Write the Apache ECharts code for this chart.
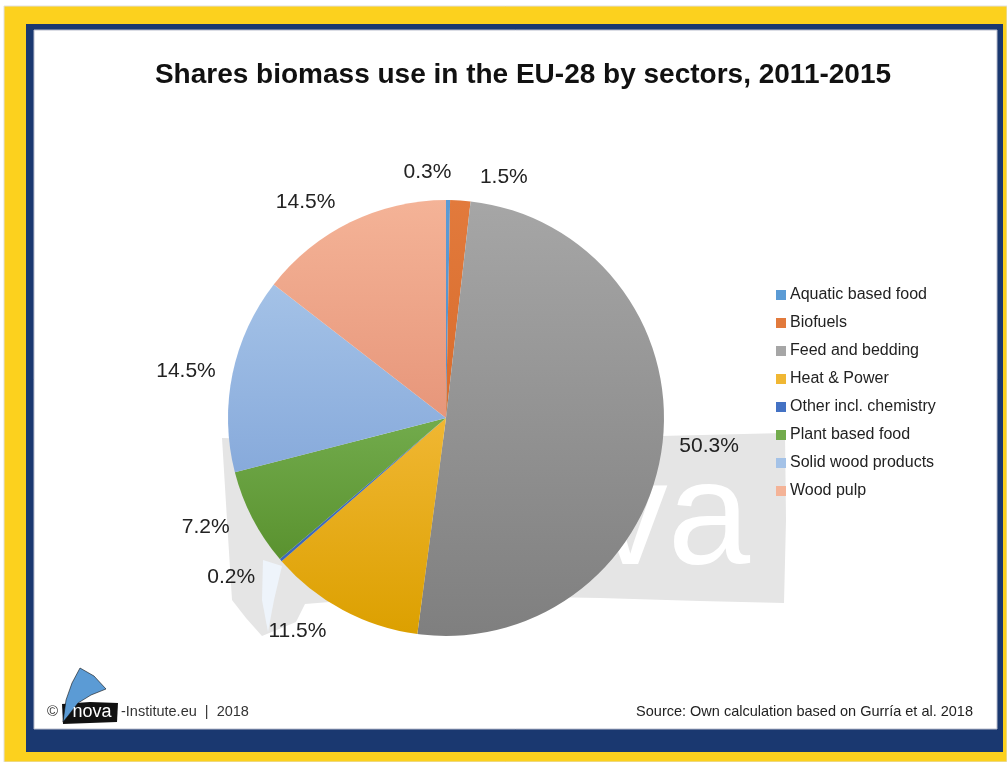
<!DOCTYPE html>
<html>
<head>
<meta charset="utf-8">
<script src="https://cdn.jsdelivr.net/npm/echarts@6/dist/echarts.min.js"></script>
<style>html,body{margin:0;padding:0;background:#fff;}#c{width:1007px;height:762px;}</style>
</head>
<body>
<div id="c"></div>
<script>
// ---- data ----
const categories = ['Aquatic based food','Biofuels','Feed and bedding','Heat & Power','Other incl. chemistry','Plant based food','Solid wood products','Wood pulp'];
const shares = [0.3, 1.5, 50.3, 11.5, 0.2, 7.2, 14.5, 14.5];
const titleText = 'Shares biomass use in the EU-28 by sectors, 2011-2015';
const sourceText = 'Source: Own calculation based on Gurría et al. 2018';

// ---- styles ----
const topColors =    ['#5b9bd5','#e27a3c','#a6a6a6','#f0b733','#4472c4','#72ab4c','#a4c2e7','#f4b397'];
const bottomColors = ['#5590cc','#d86c2c','#7f7f7f','#dca000','#3d68b8','#5a922f','#87aadb','#e7967a'];
const labelLen = [28, 23, 12, 24, 27, 20, 12, 22];
const labelLen2 = [0, 13, 0, 0, 0, 0, 0, 0];
const FONT = '"Liberation Sans", Arial, Helvetica, sans-serif';

const chart = echarts.init(document.getElementById('c'), null, {renderer:'canvas'});

const data = categories.map((name, i) => ({
  name: name,
  value: shares[i],
  itemStyle: {
    color: { type:'linear', x:0, y:0, x2:0, y2:1,
      colorStops:[{offset:0,color:topColors[i]},{offset:1,color:bottomColors[i]}] }
  },
  labelLine: { show:false, length: labelLen[i], length2: labelLen2[i] }
}));

const option = {
  animation: false,
  backgroundColor: '#ffffff',
  legend: {
    orient: 'vertical',
    left: 776,
    top: 287,
    padding: 0,
    itemWidth: 10,
    itemHeight: 10,
    itemGap: 12,
    icon: 'rect',
    selectedMode: false,
    data: categories.map((c, i) => ({ name: c, itemStyle: { color: topColors[i] } })),
    textStyle: { fontSize: 16, lineHeight: 16, color: '#222', fontFamily: FONT, padding: [0,0,0,-1] }
  },
  graphic: [
    { type:'rect', z:-10, silent:true, shape:{x:4,y:6,width:1003,height:756}, style:{fill:'#fcd11e', stroke:'#e0e0e0', lineWidth:1} },
    { type:'rect', z:-9, silent:true, shape:{x:26,y:24,width:977,height:728}, style:{fill:'#1a3870'} },
    { type:'rect', z:-8, silent:true, shape:{x:34,y:30,width:963,height:699}, style:{fill:'#ffffff', stroke:'#b8bccc', lineWidth:1} },
    // watermark
    { type:'polygon', z:-5, silent:true,
      shape:{ points:[[222,438],[330,441],[450,441],[560,438],[660,436],[785,433],[786,520],[784,603],[700,601],[600,598],[480,596],[380,598],[305,604],[296,622],[262,636],[246,618],[232,600],[227,520]] },
      style:{ fill:'#e5e5e5' } },
    { type:'polygon', z:-4, silent:true,
      shape:{ points:[[263,560],[282,566],[274,600],[268,632],[262,600]] },
      style:{ fill:'#eef4fb' } },
    { type:'text', z:-3, silent:true, style:{ text:'nova', x:750, y:597, align:'right', verticalAlign:'bottom', fontSize:148, fontFamily:FONT, fill:'#ffffff' } },
    // title
    { type:'text', silent:true, style:{ text:titleText, x:523, y:75, align:'center', verticalAlign:'middle', fontSize:28, fontWeight:'bold', fontFamily:FONT, fill:'#111' } },
    // footer left
    { type:'text', silent:true, style:{ text:'©', x:47, y:712, align:'left', verticalAlign:'middle', fontSize:15, fontFamily:FONT, fill:'#333' } },
    { type:'polygon', silent:true, shape:{ points:[[62,704],[90,702],[118,703],[117,722],[90,723],[63,724]] }, style:{ fill:'#111' } },
    { type:'polygon', silent:true, smooth:0.25,
      shape:{ points:[[63,722],[66,700],[72,683],[80,668],[94,676],[106,689],[91,695],[78,703],[68,716]] },
      style:{ fill:'#5b9bd5', stroke:'#111', lineWidth:0.6 } },
    { type:'text', silent:true, style:{ text:'nova', x:92, y:712, align:'center', verticalAlign:'middle', fontSize:18, fontFamily:FONT, fill:'#ffffff' } },
    { type:'text', silent:true, style:{ text:'-Institute.eu  |  2018', x:121, y:712, align:'left', verticalAlign:'middle', fontSize:14.5, fontFamily:FONT, fill:'#333' } },
    // source
    { type:'text', silent:true, style:{ text:sourceText, x:973, y:712, align:'right', verticalAlign:'middle', fontSize:14.5, fontFamily:FONT, fill:'#222' } }
  ],
  series: [{
    type: 'pie',
    center: [446, 418],
    radius: 218,
    startAngle: 90,
    clockwise: true,
    avoidLabelOverlap: false,
    silent: true,
    emphasis: { disabled: true },
    itemStyle: { borderWidth: 0 },
    label: {
      show: true,
      position: 'outside',
      fontSize: 21,
      fontFamily: FONT,
      color: '#222',
      distanceToLabelLine: 5,
      formatter: p => p.value.toFixed(1) + '%'
    },
    labelLine: { show: false, length: 12, length2: 0 },
    labelLayout: function (p) {
      if (p.dataIndex === 0) return { dx: -p.labelRect.width - 2 };
      return {};
    },
    data: data
  }]
};
chart.setOption(option);
</script>
</body>
</html>
